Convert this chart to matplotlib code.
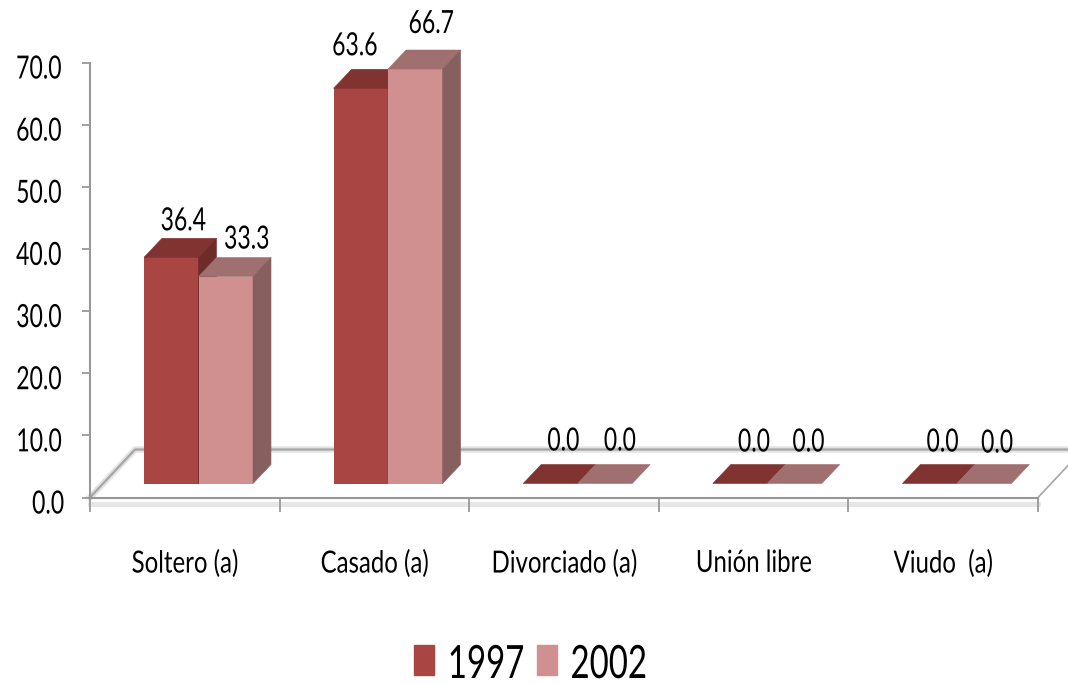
import matplotlib
matplotlib.use("Agg")
import matplotlib.pyplot as plt
from matplotlib.patches import Patch
from matplotlib.patheffects import AbstractPathEffect
from matplotlib.transforms import Affine2D

plt.rcParams['font.family'] = ['Lato', 'DejaVu Sans']

categories = ['Soltero (a)', 'Casado (a)', 'Divorciado (a)', 'Unión libre', 'Viudo  (a)']
years = ['1997', '2002']
values_1997 = [36.4, 63.6, 0.0, 0.0, 0.0]
values_2002 = [33.3, 66.7, 0.0, 0.0, 0.0]
yticks = [0, 10, 20, 30, 40, 50, 60, 70]

# label nudges in pixels, the original labels were placed by hand
nudge_1997 = [(12, 27), (-6, 33), (13, 33), (14, 32), (13, 32)]
nudge_2002 = [(21, 28), (16, 36), (15, 33), (14, 32), (13, 31)]

front = ['#A94543', '#D19090']
top = ['#803331', '#A06F6F']
side = ['#6F2B2A', '#885F5F']


class Narrow(AbstractPathEffect):
    # the reference text is squeezed sideways, no condensed font installed
    def __init__(self, sx=0.72, anchor='center', dy=0):
        super().__init__()
        self.sx = sx
        self.anchor = anchor
        self.dy = dy

    def draw_path(self, renderer, gc, tpath, affine, rgbFace=None):
        ext = tpath.get_extents()
        cx = (ext.x0 + ext.x1) / 2 if self.anchor == 'center' else ext.x0
        squeeze = Affine2D().translate(-cx, 0).scale(self.sx, 1).translate(cx, 0)
        renderer.draw_path(gc, tpath, squeeze + affine + Affine2D().translate(0, self.dy), rgbFace)


W, H = 1068, 684
fig = plt.figure(figsize=(W / 100, H / 100), dpi=100)
ax = fig.add_axes([90 / W, (H - 497.5) / H, 948 / W, 435 / H])
ax.set_xlim(0, len(categories))
ax.set_ylim(0, 70)

# 3d look, all in data units
px_x = len(categories) / 948
px_y = 70 / 435
bar_w = 54.5 * px_x
bar_start = 54 * px_x
dx = 18 * px_x
dy = 19 * px_y
base = 14 * px_y
floor_dx = 45 * px_x
floor_dy = 48 * px_y
n = len(categories)

# floor
ax.plot([0, floor_dx, n + floor_dx], [0, floor_dy, floor_dy], color='#E2E2E2', lw=4.5, clip_on=False, zorder=1)
ax.plot([0, floor_dx, n + floor_dx], [0, floor_dy, floor_dy], color='#A6A6A6', lw=1.6, clip_on=False, zorder=1.1)
ax.plot([n, n + floor_dx], [0, floor_dy], color='#A6A6A6', lw=1.2, clip_on=False, zorder=1.1)
ax.plot([0, n], [-1.0, -1.0], color='#E6E6E6', lw=3.5, clip_on=False, zorder=1)

for j, vals in enumerate([values_1997, values_2002]):
    for i, v in enumerate(vals):
        x0 = i + bar_start + j * bar_w
        x1 = x0 + bar_w
        y0 = base
        y1 = base + v
        ax.bar(x0, v, bar_w, bottom=y0, align='edge', color=front[j], zorder=3 + j, clip_on=False)
        ax.fill([x0, x1, x1 + dx, x0 + dx], [y1, y1, y1 + dy, y1 + dy], color=top[j], lw=0.4, zorder=3 + j, clip_on=False)
        if v > 0:
            ax.fill([x1, x1 + dx, x1 + dx, x1], [y0, y0 + dy, y1 + dy, y1], color=side[j], lw=0.4, zorder=3 + j, clip_on=False)

labels = []
for j, (vals, nudges) in enumerate(zip([values_1997, values_2002], [nudge_1997, nudge_2002])):
    for i, v in enumerate(vals):
        xc = i + bar_start + j * bar_w + bar_w / 2
        labels.append(ax.annotate(f'{v:.1f}', (xc, base + v), xytext=(nudges[i][0] * 0.72, nudges[i][1] * 0.72),
                                  textcoords='offset points', ha='center', va='baseline', fontsize=23,
                                  color='black', zorder=6, annotation_clip=False))

# axes
for s in ['top', 'right']:
    ax.spines[s].set_visible(False)
for s in ['left', 'bottom']:
    ax.spines[s].set_color('#989898')
    ax.spines[s].set_linewidth(1.5)
    ax.spines[s].set_zorder(2)
ax.patch.set_alpha(0)
ax.set_yticks(yticks)
ax.set_yticklabels([f'{t:.1f}' for t in yticks], fontsize=23)
ax.tick_params(axis='y', length=6, width=1.3, color='#989898', pad=8)
ax.set_xticks(range(n + 1))
ax.set_xticklabels([])
ax.tick_params(axis='x', which='major', length=10, width=1.3, color='#989898')
ax.set_xticks([i + 0.5 for i in range(n)], minor=True)
ax.set_xticklabels(categories, minor=True, fontsize=22)
ax.tick_params(axis='x', which='minor', length=0, pad=37)

handles = [Patch(color=front[0], label=years[0]), Patch(color=front[1], label=years[1])]
leg = fig.legend(handles=handles, loc='lower left', bbox_to_anchor=(414 / W, 0.0), ncol=2, frameon=False,
                 fontsize=33, handlelength=0.435, handleheight=0.61, handletextpad=0.28, columnspacing=-0.35,
                 borderpad=0, borderaxespad=0)

for t in labels:
    t.set_path_effects([Narrow()])
for t in ax.get_yticklabels():
    t.set_path_effects([Narrow(dy=-4)])
for t in ax.get_xticklabels(minor=True):
    t.set_path_effects([Narrow(sx=0.785)])
for t in leg.get_texts():
    t.set_path_effects([Narrow(anchor='left', dy=-2)])

fig.savefig('out.png', dpi=100)
